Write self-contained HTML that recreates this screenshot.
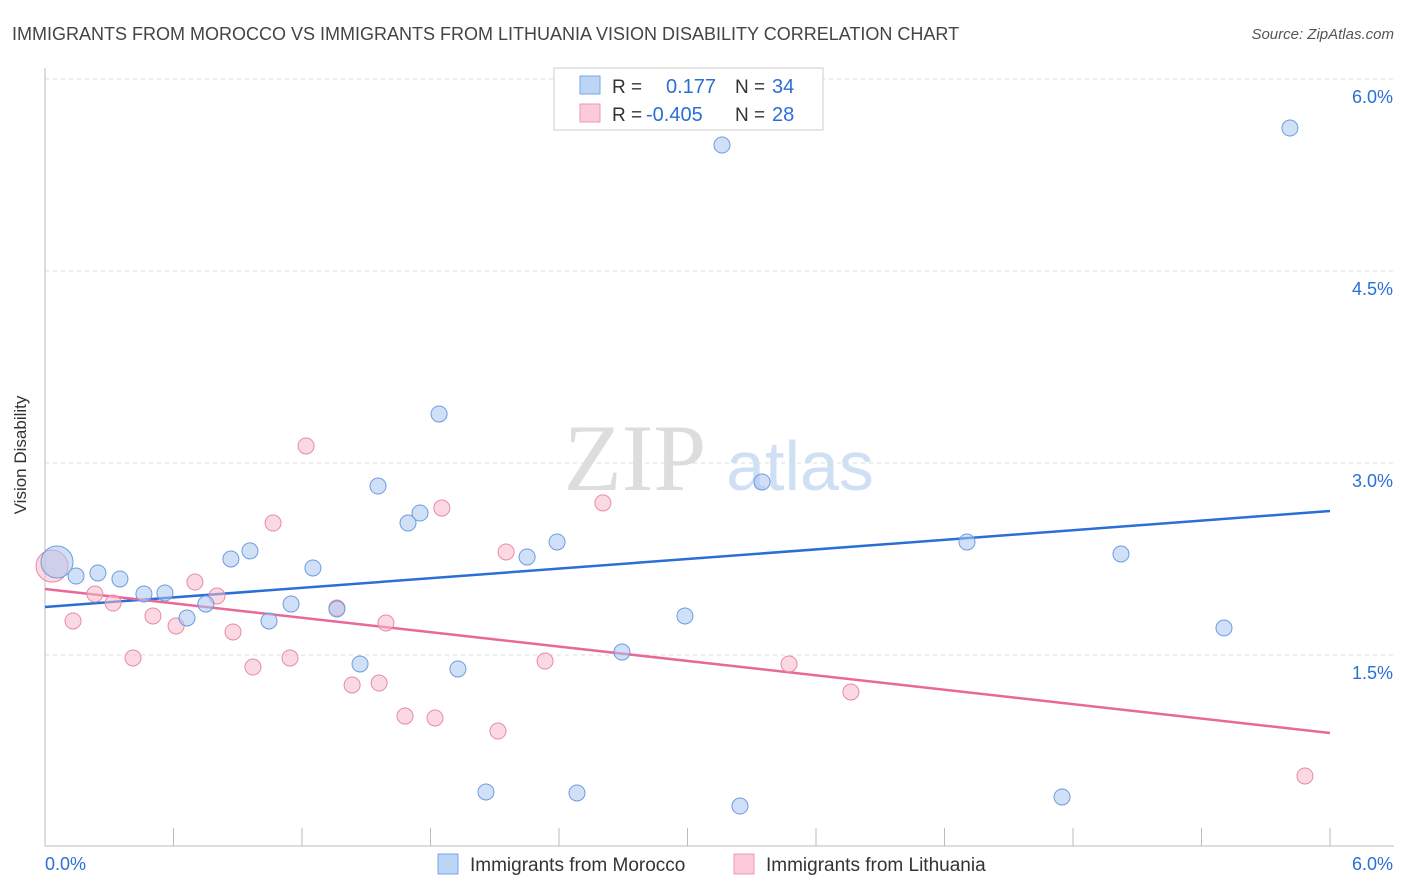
<!DOCTYPE html>
<html><head><meta charset="utf-8"><style>
body{margin:0;background:#fff;font-family:"Liberation Sans",sans-serif}
svg{display:block}
</style></head><body>
<svg width="1406" height="892" xmlns="http://www.w3.org/2000/svg">
<text x="12" y="40" font-size="18" fill="#444">IMMIGRANTS FROM MOROCCO VS IMMIGRANTS FROM LITHUANIA VISION DISABILITY CORRELATION CHART</text>
<text x="1394" y="39" font-size="15" fill="#555" font-style="italic" text-anchor="end">Source: ZipAtlas.com</text>
<text x="26" y="455" font-size="17" fill="#333" transform="rotate(-90 26 455)" text-anchor="middle">Vision Disability</text>
<g><text x="635" y="490" font-size="95" fill="#ddd" font-family="Liberation Serif" text-anchor="middle">ZIP</text><text x="800" y="490" font-size="70" fill="#cfe0f5" text-anchor="middle">atlas</text></g>
<g id="grid"></g><g id="axes"></g><g id="lines"></g><g id="pts"></g>
<g>
<rect x="554" y="68" width="269" height="62" fill="#fff" stroke="#ccc"/>
<rect x="580" y="76" width="20" height="18" fill="#bcd5f5" stroke="#7aa6e0"/>
<text x="612" y="93" font-size="19" fill="#333">R =</text><text x="666" y="93" font-size="20" fill="#2a6fd6">0.177</text>
<text x="735" y="93" font-size="19" fill="#333">N =</text><text x="772" y="93" font-size="20" fill="#2a6fd6">34</text>
<rect x="580" y="104" width="20" height="18" fill="#fbcbd9" stroke="#ea9ab4"/>
<text x="612" y="121" font-size="19" fill="#333">R =</text><text x="646" y="121" font-size="20" fill="#2a6fd6">-0.405</text>
<text x="735" y="121" font-size="19" fill="#333">N =</text><text x="772" y="121" font-size="20" fill="#2a6fd6">28</text>
</g>
<g>
<rect x="438" y="854" width="20" height="20" fill="#bcd5f5" stroke="#7aa6e0"/>
<text x="470" y="871" font-size="19" fill="#333">Immigrants from Morocco</text>
<rect x="734" y="854" width="20" height="20" fill="#fbcbd9" stroke="#ea9ab4"/>
<text x="766" y="871" font-size="19" fill="#333">Immigrants from Lithuania</text>
</g>
</svg>
<script>
const blueX=[0.056,0.145,0.247,0.350,0.462,0.560,0.663,0.751,0.868,0.957,1.046,1.149,1.251,1.363,1.471,1.555,1.695,1.751,1.840,1.928,2.059,2.251,2.391,2.484,2.694,2.988,3.161,3.245,3.348,4.305,4.749,5.024,5.505,5.813];
const blueY=[2.227,2.117,2.141,2.094,1.977,1.984,1.789,1.898,2.25,2.313,1.766,1.898,2.180,1.859,1.430,2.820,2.531,2.609,3.383,1.391,0.430,2.266,2.383,0.422,1.523,1.805,5.484,0.320,2.852,2.383,0.391,2.289,1.711,5.617];
const pinkX=[0.033,0.131,0.233,0.318,0.411,0.504,0.612,0.700,0.803,0.878,0.971,1.065,1.144,1.219,1.363,1.434,1.560,1.592,1.681,1.821,1.853,2.115,2.153,2.335,2.605,3.474,3.763,5.883];
const pinkY=[2.195,1.766,1.977,1.906,1.477,1.805,1.727,2.070,1.961,1.680,1.406,2.531,1.477,3.133,1.867,1.266,1.281,1.750,1.023,1.008,2.648,0.906,2.305,1.453,2.688,1.430,1.211,0.555];
const blueTrend=[1.875,2.625];
const pinkTrend=[2.016,0.891];
const yTicks=[1.5,3.0,4.5,6.0];
const yTickLabels=["1.5%","3.0%","4.5%","6.0%"];
const NS="http://www.w3.org/2000/svg";
const sx=v=>45+v/6*1285, sy=v=>847-v/1.5*192;
function mk(tag,attrs,parent){const e=document.createElementNS(NS,tag);for(const k in attrs)e.setAttribute(k,attrs[k]);document.getElementById(parent).appendChild(e);return e;}
yTicks.forEach((t,i)=>{
  const g=mk('line',{x1:45,x2:1394,y1:sy(t),y2:sy(t),stroke:'#ddd','stroke-dasharray':'4,4'},'grid');
  
  
  const l=mk('text',{x:1393,y:sy(t)+24,'font-size':18,fill:'#2a6fd6','text-anchor':'end'},'axes');
  l.textContent=yTickLabels[i];
  
  
});
const ax=mk('line',{x1:45,x2:45,y1:68,y2:846,stroke:'#bbb'},'axes');


const bx=mk('line',{x1:45,x2:1394,y1:846,y2:846,stroke:'#bbb'},'axes');


for(let i=0;i<=10;i++){const x=45+i*128.5;const t=mk('line',{x1:x,x2:x,y1:828,y2:846,stroke:'#bbb'},'axes');

}
const x0=mk('text',{x:45,y:870,'font-size':18,fill:'#2a6fd6'},'axes');x0.textContent='0.0%';


const x1=mk('text',{x:1393,y:870,'font-size':18,fill:'#2a6fd6','text-anchor':'end'},'axes');x1.textContent='6.0%';


function pts(X,Y,fill,stroke,name){X.forEach((x,i)=>{const r=i===0?16:8;
 const c=mk('circle',{cx:sx(x),cy:sy(Y[i]),r:r,fill:fill,'fill-opacity':0.55,stroke:stroke,'stroke-width':1},'pts');
 
 });}
pts(pinkX,pinkY,'#f7b9cc','#e88aa6','lithuania-point');
pts(blueX,blueY,'#a9c8f0','#6d9be0','morocco-point');
const bl=mk('line',{x1:sx(0),y1:sy(blueTrend[0]),x2:sx(6),y2:sy(blueTrend[1]),stroke:'#2a6fd6','stroke-width':2.5},'lines');


const pl=mk('line',{x1:sx(0),y1:sy(pinkTrend[0]),x2:sx(6),y2:sy(pinkTrend[1]),stroke:'#e8689a','stroke-width':2.5},'lines');


</script>
</body></html>
